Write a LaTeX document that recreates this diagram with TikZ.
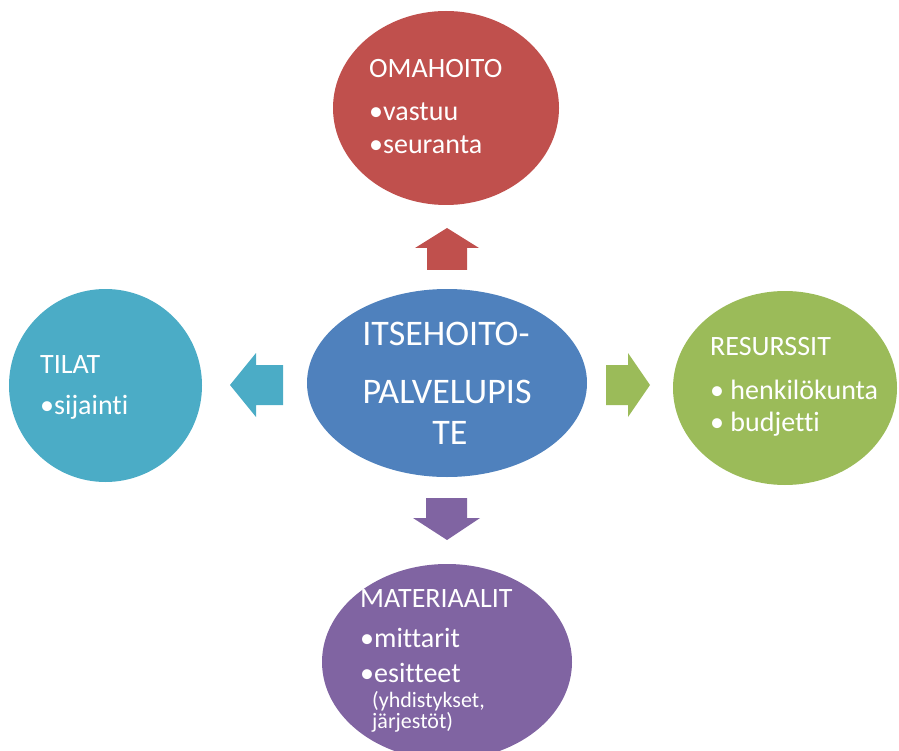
\documentclass[tikz,border=0pt]{standalone}
\usepackage{fontspec}
\setmainfont{Carlito}[RawFeature={-liga}]
\usetikzlibrary{shapes.geometric}
\definecolor{omared}{HTML}{C0504D}
\definecolor{itseblue}{HTML}{4F81BD}
\definecolor{tilateal}{HTML}{4BACC6}
\definecolor{resgreen}{HTML}{9BBB59}
\definecolor{matpurple}{HTML}{8064A2}
\begin{document}
\begin{tikzpicture}[x=1pt,y=-1pt,line join=round]
	\tikzset{every node/.style={inner sep=0pt},
		blob/.style={ellipse,inner sep=0pt,draw=none},
		head/.style={text=white,anchor=base west,font=\fontsize{28}{32}\selectfont},
		item/.style={text=white,anchor=base west,font=\fontsize{28}{32}\selectfont},
		small/.style={text=white,anchor=base west,font=\fontsize{22}{26}\selectfont},
		core/.style={text=white,anchor=base,font=\fontsize{36}{40}\selectfont}}
	\useasboundingbox (0,0) rectangle (899,751);
	\begin{scope}
		\clip (0,0) rectangle (899,751);
		% circles
		\node[blob,fill=omared,minimum width=226pt,minimum height=194pt] (omahoito) at (446,108) {};
		\node[blob,fill=itseblue,minimum width=280pt,minimum height=188pt] (itse) at (447,383) {};
		\node[blob,fill=tilateal,minimum width=193pt,minimum height=193pt] (tilat) at (105.5,385.5) {};
		\node[blob,fill=resgreen,minimum width=224pt,minimum height=194pt] (resurssit) at (785,388) {};
		\node[blob,fill=matpurple,minimum width=250pt,minimum height=196pt] (materiaalit) at (447,662) {};
		% block arrows
		\fill[omared] (427,270)--(427,248)--(415,248)--(447,228)--(479,248)--(467,248)--(467,270)--cycle;
		\fill[tilateal] (283,365)--(256,365)--(256,353)--(230,385)--(256,417)--(256,405)--(283,405)--cycle;
		\fill[resgreen] (606,365)--(628,365)--(628,353)--(650,385)--(628,417)--(628,405)--(606,405)--cycle;
		\fill[matpurple] (426,498)--(467,498)--(467,518)--(480,518)--(447,540)--(413,518)--(426,518)--cycle;
		% texts
		\node[head] (omahead) at (369,78) {OMAHOITO};
		\node[item] (oma1) at (369,121) {•vastuu};
		\node[item] (oma2) at (369,154) {•seuranta};
		\node[core] (itse1) at (446,345) {ITSEHOITO-};
		\node[core] (itse2) at (447,403) {PALVELUPIS};
		\node[core] (itse3) at (450,444) {TE};
		\node[head] (tilahead) at (40,373) {TILAT};
		\node[item] (tila1) at (40,414) {•sijainti};
		\node[head] (reshead) at (710,355) {RESURSSIT};
		\node[item] (res1) at (710,399) {• henkilökunta};
		\node[item] (res2) at (710,431) {• budjetti};
		\node[head] (mathead) at (360,607) {MATERIAALIT};
		\node[item] (mat1) at (360,647) {•mittarit};
		\node[item] (mat2) at (360,682) {•esitteet};
		\node[small] (mat3) at (372,707) {(yhdistykset,};
		\node[small] (mat4) at (372,728) {järjestöt)};
	\end{scope}
\end{tikzpicture}
\end{document}
